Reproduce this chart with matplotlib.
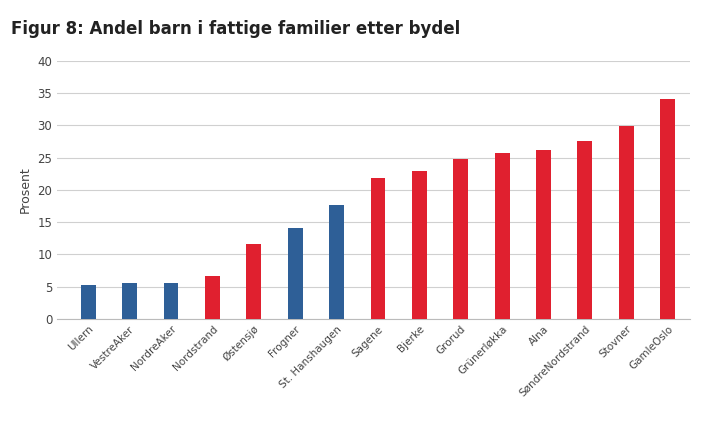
import matplotlib
matplotlib.use("Agg")
import matplotlib.pyplot as plt

categories = ["Ullern", "VestreAker", "NordreAker", "Nordstrand", "Østensjø", "Frogner",
              "St. Hanshaugen", "Sagene", "Bjerke", "Grorud", "Grünerløkka", "Alna",
              "SøndreNordstrand", "Stovner", "GamleOslo"]
values = [5.3, 5.6, 5.6, 6.7, 11.6, 14.1, 17.7, 21.9, 22.9, 24.8, 25.7, 26.2, 27.6, 29.9, 34.1]
groups = ["b", "b", "b", "r", "r", "b", "b", "r", "r", "r", "r", "r", "r", "r", "r"]
yticks = [0, 5, 10, 15, 20, 25, 30, 35, 40]

colors = {"b": "#2e5f97", "r": "#e0202f"}
fig = plt.figure(figsize=(7.06, 4.22), dpi=100)
ax = fig.add_axes([0.081, 0.244, 0.897, 0.612])
x = range(len(categories))
ax.bar(x, values, width=0.36, color=[colors[g] for g in groups], zorder=3)
ax.set_ylim(0, 40)
ax.set_xlim(-0.75, len(categories) - 0.45)
ax.set_yticks(yticks)
ax.tick_params(axis="y", length=0, labelsize=8.5, colors="#444444")
ax.tick_params(axis="x", length=0, labelsize=7.5, colors="#444444")
ax.grid(axis="y", color="#d0d0d0", linewidth=0.8, zorder=0)
for s in ["top", "right", "left"]:
    ax.spines[s].set_visible(False)
ax.spines["bottom"].set_color("#bbbbbb")
ax.set_xticks(list(x))
ax.set_xticklabels(categories, rotation=45, ha="right", rotation_mode="anchor")
ax.set_ylabel("Prosent", fontsize=9, color="#444444")
fig.text(0.015, 0.92, "Figur 8: Andel barn i fattige familier etter bydel",
         fontsize=12, fontweight="bold", color="#222222")
fig.savefig("out.png", dpi=100)
